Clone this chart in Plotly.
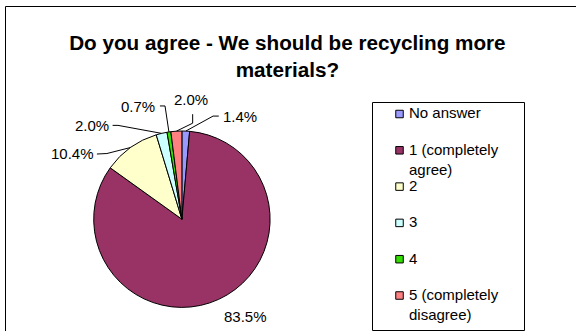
import math
import plotly.graph_objects as go

# ---- data ----
categories = ["No answer", "1 (completely<br>agree)", "2", "3", "4", "5 (completely<br>disagree)"]
values = [1.4, 83.5, 10.4, 2.0, 0.7, 2.0]
colors = ["#9999FF", "#993366", "#FFFFCC", "#CCFFFF", "#33DD00", "#FF8080"]
title_text = "Do you agree - We should be recycling more<br>materials?"

# ---- layout helpers (pixel -> paper) ----
W, H = 576, 331
def px(x):
    return x / W
def py(y):
    return 1 - y / H

FONT = "Liberation Sans, Arial, sans-serif"

# pie geometry (pixels)
cx, cy, r = 181.9, 219.2, 88.2
dom_x = [px(cx - r), px(cx + r)]
dom_y = [py(cy + r), py(cy - r)]

fig = go.Figure()
fig.add_trace(go.Pie(
    labels=[c.replace("<br>", " ") for c in categories],
    values=values,
    sort=False,
    direction="clockwise",
    rotation=0,
    marker=dict(colors=colors, line=dict(color="black", width=1)),
    textinfo="none",
    showlegend=False,
    domain=dict(x=dom_x, y=dom_y),
    hovertemplate="%{label}: %{percent:.1%}<extra></extra>",
))

annotations = []
shapes = []

# label placement relative to the slice's edge point (pixels):
# (label centre offset, leader elbow offset, leader end offset) ; None = no leader
label_layout = [
    ((54, -15), (27.3, -15), (33, -15)),
    ((27, 17), None, None),
    ((-58, 6), (-23.6, 6), (-33.6, 6.5)),
    ((-70, -8), (-43.6, -8), (-49, -8)),
    ((-31, -25), (-3.9, -26), (-9, -26)),
    ((15, -32), (16.3, -8), (16.3, -17)),
]
total = sum(values)
cum = 0.0
for v, (lab, elb, end) in zip(values, label_layout):
    mid = (cum + v / 2) / total
    cum += v
    th = 2 * math.pi * mid
    ex = cx + r * math.sin(th)
    ey = cy - r * math.cos(th)
    txt = f"{v / total * 100:.1f}%"
    annotations.append(dict(
        x=px(ex + lab[0]), y=py(ey + lab[1]),
        xref="paper", yref="paper", text=txt,
        xanchor="center", yanchor="middle", showarrow=False,
        font=dict(family=FONT, size=15, color="black"),
    ))
    if elb is not None:
        path = (f"M {px(ex)} {py(ey)} L {px(ex + elb[0])} {py(ey + elb[1])} "
                f"L {px(ex + end[0])} {py(ey + end[1])}")
        shapes.append(dict(type="path", xref="paper", yref="paper", path=path,
                           line=dict(color="black", width=1)))

# manual legend
leg_x0, leg_x1, leg_y0, leg_y1 = 372.5, 524.5, 102.5, 330.5
shapes.append(dict(type="rect", xref="paper", yref="paper",
                   x0=px(leg_x0), x1=px(leg_x1), y0=py(leg_y1), y1=py(leg_y0),
                   line=dict(color="black", width=1), fillcolor="white", layer="below"))
item_y0, item_step = 114.0, 36.3
mk = 7.5
mk_x = 399.5
for i, (c, col) in enumerate(zip(categories, colors)):
    yc = item_y0 + i * item_step
    shapes.append(dict(type="rect", xref="paper", yref="paper",
                       x0=px(mk_x - mk / 2), x1=px(mk_x + mk / 2),
                       y0=py(yc + mk / 2), y1=py(yc - mk / 2),
                       line=dict(color="black", width=1), fillcolor=col))
    annotations.append(dict(
        x=px(407), y=py(yc - 11.5), xref="paper", yref="paper", text=c,
        xanchor="left", yanchor="top", align="left", showarrow=False,
        font=dict(family=FONT, size=15, color="black"),
    ))

# outer frame
shapes.append(dict(type="rect", xref="paper", yref="paper",
                   x0=px(5.5), x1=1.05, y0=-0.05, y1=py(6.5),
                   line=dict(color="black", width=1), layer="below"))

fig.update_layout(
    width=W, height=H,
    margin=dict(l=0, r=0, t=0, b=0),
    paper_bgcolor="white", plot_bgcolor="white",
    title=dict(text="<b>" + title_text + "</b>", x=px(287.4), xanchor="center",
               y=py(50), yanchor="top", yref="container",
               font=dict(family=FONT, size=20.7, color="black")),
    annotations=annotations,
    shapes=shapes,
    showlegend=False,
)

fig.write_html("out.html",
               config={"displayModeBar": False},
               post_script="document.body.style.margin='0';document.body.style.overflow='hidden';")
